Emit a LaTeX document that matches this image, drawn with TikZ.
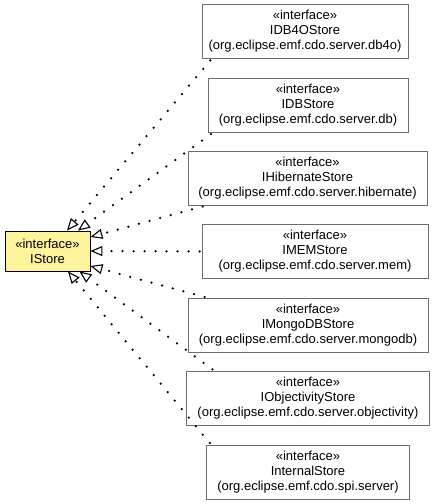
\documentclass[tikz,border=0pt]{standalone}
\usepackage{fontspec}
\setmainfont{Liberation Sans}
\usetikzlibrary{arrows.meta}
\definecolor{ifacefill}{RGB}{255,244,158}
\definecolor{boxline}{RGB}{110,110,110}

\begin{document}
\begin{tikzpicture}[x=1pt, y=-1pt,
    font=\fontsize{13}{15}\selectfont,
    iface/.style={draw=boxline, line width=0.9pt, fill=white, align=center, inner xsep=2pt, minimum width=#1, minimum height=54pt},
    realize/.style={line width=2.5pt, dash pattern=on 0pt off 11pt, line cap=round, shorten <=2pt,
        -{Triangle[open, length=12pt, width=10pt, line width=1.1pt, fill=white]}}]
    \useasboundingbox (0,0) rectangle (435,504);
    \node (istore) [draw, line width=0.9pt, fill=ifacefill, align=center, minimum width=85pt, minimum height=40pt] at (47.5,251) {«interface»\\IStore};
    \node (db4o) [iface=206pt] at (305,31.5) {«interface»\\IDB4OStore\\(org.eclipse.emf.cdo.server.db4o)};
    \node (db) [iface=200pt] at (308,105.5) {«interface»\\IDBStore\\(org.eclipse.emf.cdo.server.db)};
    \node (hib) [iface=239pt] at (307.5,178.5) {«interface»\\IHibernateStore\\(org.eclipse.emf.cdo.server.hibernate)};
    \node (mem) [iface=226pt] at (315,251.5) {«interface»\\IMEMStore\\(org.eclipse.emf.cdo.server.mem)};
    \node (mongo) [iface=240pt] at (308,325) {«interface»\\IMongoDBStore\\(org.eclipse.emf.cdo.server.mongodb)};
    \node (obj) [iface=243pt] at (308,398) {«interface»\\IObjectivityStore\\(org.eclipse.emf.cdo.server.objectivity)};
    \node (internal) [iface=203pt] at (308,472) {«interface»\\InternalStore\\(org.eclipse.emf.cdo.spi.server)};
    \path[realize]
    ([xshift=10pt]db4o.south west) edge ([xshift=19.5pt]istore.north)
    ([xshift=5pt]db.south west) edge ([xshift=30.5pt]istore.north)
    ([xshift=17pt]hib.south west) edge ([yshift=14pt]istore.east)
    (mem.west) edge (istore.east)
    ([xshift=19pt]mongo.north west) edge ([yshift=-15pt]istore.east)
    ([xshift=28pt]obj.north west) edge ([xshift=32pt]istore.south)
    ([xshift=5pt]internal.north west) edge ([xshift=20.5pt]istore.south);
\end{tikzpicture}
\end{document}
